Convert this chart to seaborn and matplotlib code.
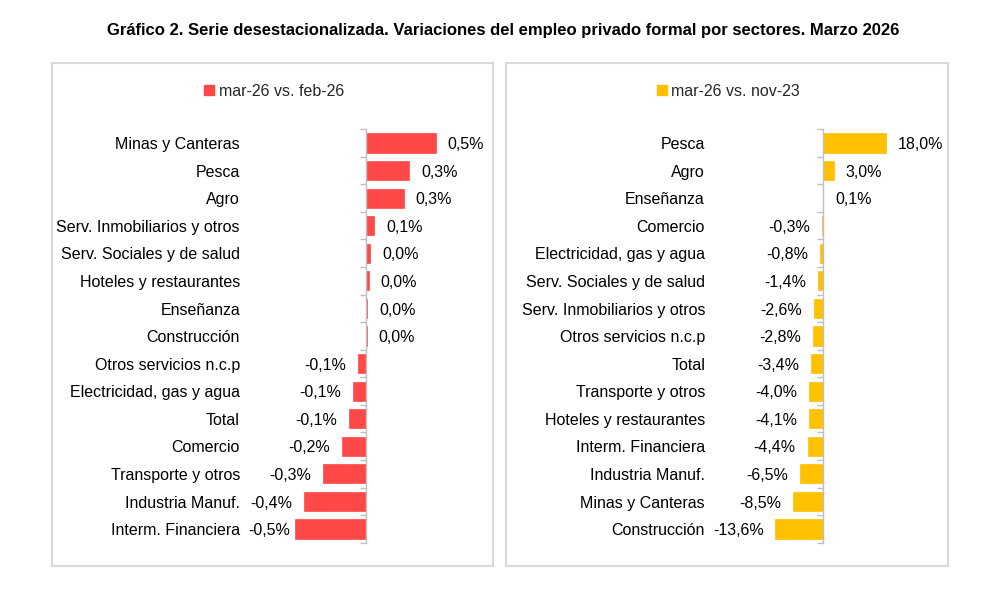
import matplotlib
matplotlib.use("Agg")
import matplotlib.pyplot as plt
import matplotlib.transforms as mtransforms
from matplotlib.patches import Rectangle
from matplotlib.lines import Line2D
import seaborn as sns
import pandas as pd
import numpy as np

# ---- data ----
title = "Gráfico 2. Serie desestacionalizada. Variaciones del empleo privado formal por sectores. Marzo 2026"

left_label = "mar-26 vs. feb-26"
left_cats = ["Minas y Canteras", "Pesca", "Agro", "Serv. Inmobiliarios y otros",
             "Serv. Sociales y de salud", "Hoteles y restaurantes", "Enseñanza",
             "Construcción", "Otros servicios n.c.p", "Electricidad, gas y agua",
             "Total", "Comercio", "Transporte y otros", "Industria Manuf.",
             "Interm. Financiera"]
left_vals = [0.50, 0.31, 0.27, 0.06, 0.03, 0.02, 0.01, 0.005, -0.06, -0.09,
             -0.12, -0.17, -0.31, -0.44, -0.51]

right_label = "mar-26 vs. nov-23"
right_cats = ["Pesca", "Agro", "Enseñanza", "Comercio", "Electricidad, gas y agua",
              "Serv. Sociales y de salud", "Serv. Inmobiliarios y otros",
              "Otros servicios n.c.p", "Total", "Transporte y otros",
              "Hoteles y restaurantes", "Interm. Financiera", "Industria Manuf.",
              "Minas y Canteras", "Construcción"]
right_vals = [18.0, 3.0, 0.1, -0.3, -0.8, -1.4, -2.6, -2.8, -3.4, -4.0, -4.1,
              -4.4, -6.5, -8.5, -13.6]

RED = "#FF4949"
GOLD = "#FFC000"
BOX = "#D9D9D9"
AXC = "#BFBFBF"
FS = 11.5
DY = -1.2  # vertical nudge (points) to center capitals on bars

sns.set_theme(style="white")
plt.rcParams['font.family'] = ['Liberation Sans', 'DejaVu Sans']

fig = plt.figure(figsize=(10.08, 5.89), dpi=100)
W, H = 1008, 589
renderer = fig.canvas.get_renderer()


def panel(box_px, zero_px, px_per_unit, cats, vals, color, leg_label, label_x_px):
    x0, y0, x1, y1 = box_px
    ax = fig.add_axes([x0 / W, 1 - y1 / H, (x1 - x0) / W, (y1 - y0) / H])
    n = len(cats)
    df = pd.DataFrame({"cat": cats, "val": vals})
    sns.barplot(data=df, x="val", y="cat", order=cats, orient="h", color=color,
                saturation=1, width=0.69, ax=ax, edgecolor=color, linewidth=0.5)
    # axis limits
    row_px = (529 - 143) / (n - 1)
    ax.set_xlim((x0 - zero_px) / px_per_unit, (x1 - zero_px) / px_per_unit)
    ax.set_ylim(n - 1 + (y1 - 529) / row_px, (y0 - 143) / row_px)
    # spines
    for s in ["top", "right", "bottom"]:
        ax.spines[s].set_visible(False)
    ax.spines["left"].set_position(("data", 0))
    ax.spines["left"].set_bounds(-0.5, n - 0.5)
    ax.spines["left"].set_color(AXC)
    ax.spines["left"].set_linewidth(1.0)
    ax.set_yticks(np.arange(-0.5, n, 1.0))
    ax.set_yticklabels([])
    ax.tick_params(axis="y", left=True, length=4, width=1.0, color=AXC, direction="out")
    ax.set_xticks([])
    ax.set_xlabel("")
    ax.set_ylabel("")
    # frame box
    ax.add_patch(Rectangle((0, 0), 1, 1, transform=ax.transAxes, fill=False,
                           edgecolor=BOX, linewidth=1.5, clip_on=False))
    # category labels
    trans = mtransforms.blended_transform_factory(ax.transAxes, ax.transData)
    lx = (label_x_px - x0) / (x1 - x0)
    for i, c in enumerate(cats):
        ax.annotate(c, (lx, i), xycoords=trans, xytext=(0, DY),
                    textcoords="offset points", ha="right", va="center",
                    fontsize=FS, color="#000000")
    # value labels
    pt = 100 / 72.0
    for i, v in enumerate(vals):
        txt = f"{v:.1f}".replace(".", ",") + "%"
        if v >= 0:
            ax.annotate(txt, (v, i), xytext=(8.5, DY), textcoords="offset points",
                        ha="left", va="center", fontsize=FS, color="#000000")
        else:
            a = ax.annotate(txt, (v, i), xytext=(-8.5, DY), textcoords="offset points",
                            ha="right", va="center", fontsize=FS, color="#000000")
            # keep clear of the category label column
            bb = a.get_window_extent(renderer)
            min_left = label_x_px + 8  # px from left of figure
            if bb.x0 < min_left:
                shift = (min_left - bb.x0) / pt
                a.set_position((-8.5 + shift, DY))
    # legend
    h = Line2D([], [], marker="s", linestyle="none", markersize=7,
               markerfacecolor=color, markeredgecolor=color)
    ax.legend([h], [leg_label], loc="center", bbox_to_anchor=(0.5, 1 - 28 / (y1 - y0)),
              frameon=False, fontsize=FS, handletextpad=0.1, handlelength=1.0,
              borderaxespad=0)
    return ax


panel((52, 63, 493, 566), 366, 140.0, left_cats, left_vals, RED, left_label, 240)
panel((506, 63, 948, 566), 823, 3.5, right_cats, right_vals, GOLD, right_label, 705)

fig.text(503 / W, 1 - 31 / H, title, ha="center", va="center", fontsize=12.0,
         fontweight="bold", color="#000000")

fig.savefig("out.png", dpi=100, facecolor="white")
